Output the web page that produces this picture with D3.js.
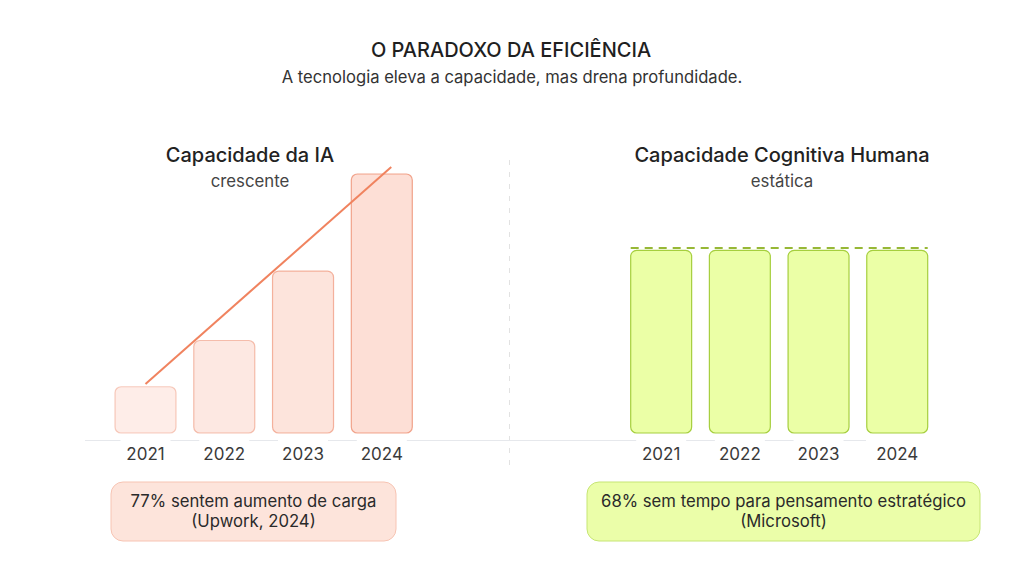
<!DOCTYPE html>
<html>
<head>
<meta charset="utf-8">
<script src="https://cdn.jsdelivr.net/npm/d3@7"></script>
<style>
  body { margin: 0; background: #fff; }
  svg text { font-family: Inter, "Noto Sans", sans-serif; }
</style>
</head>
<body>
<svg id="chart"></svg>
<script>
// data
var years = ["2021", "2022", "2023", "2024"];
var aiValues = [10, 20, 35, 56];
var humanValues = [39.5, 39.5, 39.5, 39.5];
var humanLevel = 40;
var aiTrend = [{i: 0, v: 10.6}, {i: 3.12, v: 57.5}];
var aiOpacity = [0.2, 0.25, 0.3, 0.36];

var title = "O PARADOXO DA EFICIÊNCIA";
var subtitle = "A tecnologia eleva a capacidade, mas drena profundidade.";
var panels = [
  {title: "Capacidade da IA", sub: "crescente", note: ["77% sentem aumento de carga", "(Upwork, 2024)"]},
  {title: "Capacidade Cognitiva Humana", sub: "estática", note: ["68% sem tempo para pensamento estratégico", "(Microsoft)"]}
];

var W = 1024, H = 578;
var svg = d3.select("#chart").attr("width", W).attr("height", H);

var y = d3.scaleLinear().domain([0, 60]).range([433, 155.5]);

var xL = d3.scaleBand().domain(years).range([115, 412.3]).paddingInner(0.2256).paddingOuter(0);
var xR = d3.scaleBand().domain(years).range([630.7, 927.7]).paddingInner(0.2256).paddingOuter(0);

// header
svg.append("text")
    .attr("x", 511).attr("y", 57)
    .attr("text-anchor", "middle")
    .attr("font-size", 20).attr("font-weight", 500)
    .attr("fill", "#1f1f1f")
    .text(title);
svg.append("text")
    .attr("x", 512).attr("y", 83)
    .attr("text-anchor", "middle")
    .attr("font-size", 16.6)
    .attr("fill", "#333")
    .text(subtitle);

// divider
svg.append("line")
    .attr("x1", 509.5).attr("x2", 509.5)
    .attr("y1", 160).attr("y2", 472)
    .attr("stroke", "#e2e2e2")
    .attr("stroke-dasharray", "5,7");

// baseline
svg.append("line")
    .attr("x1", 85).attr("x2", 866)
    .attr("y1", 440.5).attr("y2", 440.5)
    .attr("stroke", "#e6e8ec");

// panel titles
var centers = [250, 782];
panels.forEach(function(p, k) {
    svg.append("text")
        .attr("x", centers[k]).attr("y", 162)
        .attr("text-anchor", "middle")
        .attr("font-size", 20).attr("font-weight", 500)
        .attr("fill", "#222")
        .text(p.title);
    svg.append("text")
        .attr("x", centers[k]).attr("y", 187)
        .attr("text-anchor", "middle")
        .attr("font-size", 16.8)
        .attr("fill", "#444")
        .text(p.sub);
});

// AI bars
svg.append("g").selectAll("rect")
    .data(aiValues)
    .enter().append("rect")
    .attr("x", function(d, i) { return xL(years[i]); })
    .attr("y", function(d) { return y(d); })
    .attr("width", xL.bandwidth())
    .attr("height", function(d) { return y(0) - y(d); })
    .attr("rx", 6)
    .attr("fill", "#f9a58c")
    .attr("fill-opacity", function(d, i) { return aiOpacity[i]; })
    .attr("stroke", "#ec8565")
    .attr("stroke-opacity", function(d, i) { return aiOpacity[i] * 2; })
    .attr("stroke-width", 1.2);

// AI trend
var bw = xL.bandwidth();
svg.append("path")
    .datum(aiTrend)
    .attr("fill", "none")
    .attr("stroke", "#f0835f")
    .attr("stroke-width", 2)
    .attr("d", d3.line()
        .x(function(d) { return xL(years[0]) + bw / 2 + d.i * xL.step(); })
        .y(function(d) { return y(d.v); })
    );

// human bars
svg.append("g").selectAll("rect")
    .data(humanValues)
    .enter().append("rect")
    .attr("x", function(d, i) { return xR(years[i]); })
    .attr("y", function(d) { return y(d); })
    .attr("width", xR.bandwidth())
    .attr("height", function(d) { return y(0) - y(d); })
    .attr("rx", 6)
    .attr("fill", "#ebffa6")
    .attr("stroke", "#a6cf3e")
    .attr("stroke-width", 1.2);

svg.append("line")
    .attr("x1", xR(years[0])).attr("x2", xR(years[3]) + xR.bandwidth())
    .attr("y1", y(humanLevel)).attr("y2", y(humanLevel))
    .attr("stroke", "#97b836")
    .attr("stroke-width", 2)
    .attr("stroke-dasharray", "8,6");

// year labels with white backing
[xL, xR].forEach(function(x) {
    var g = svg.append("g");
    years.forEach(function(yr) {
        var cx = x(yr) + x.bandwidth() / 2;
        g.append("rect")
            .attr("x", cx - 25).attr("y", 436)
            .attr("width", 50).attr("height", 26)
            .attr("fill", "#fff");
        g.append("text")
            .attr("x", cx).attr("y", 460)
            .attr("text-anchor", "middle")
            .attr("font-size", 17)
            .attr("fill", "#3a3a3a")
            .text(yr);
    });
});

// callouts
var boxes = [
    {x: 111, w: 285, fill: "#fde4db", stroke: "#f7c4b3"},
    {x: 587, w: 393, fill: "#ebfea9", stroke: "#c6e574"}
];
panels.forEach(function(p, k) {
    var b = boxes[k];
    svg.append("rect")
        .attr("x", b.x).attr("y", 482)
        .attr("width", b.w).attr("height", 59)
        .attr("rx", 12)
        .attr("fill", b.fill)
        .attr("stroke", b.stroke);
    p.note.forEach(function(line, j) {
        svg.append("text")
            .attr("x", b.x + b.w / 2).attr("y", 507 + j * 20)
            .attr("text-anchor", "middle")
            .attr("font-size", 16.7)
            .attr("fill", "#2a2a2a")
            .text(line);
    });
});
</script>
</body>
</html>
